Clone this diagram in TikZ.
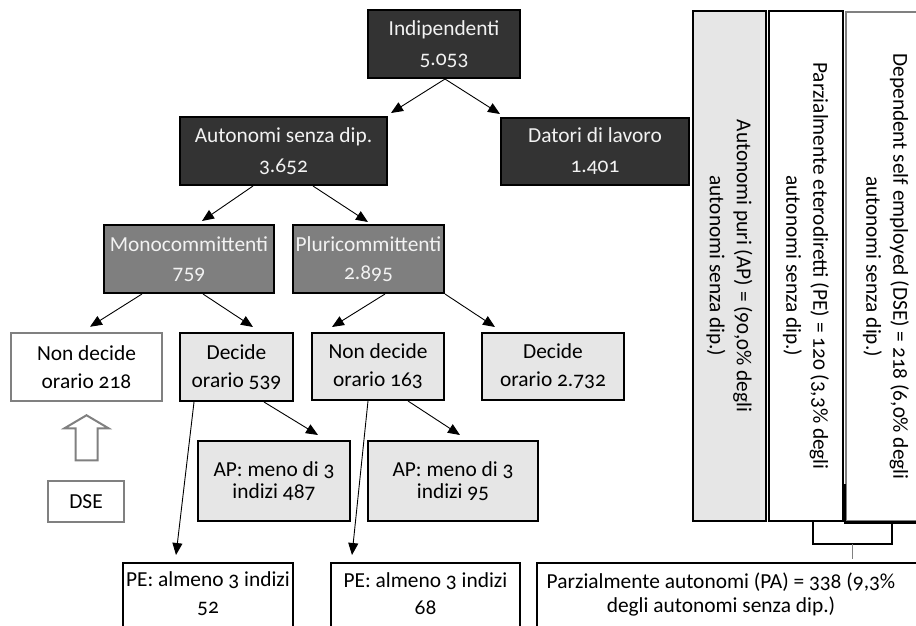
\documentclass[tikz,border=0pt]{standalone}
\usepackage{fontspec}
\setmainfont{Carlito}[Numbers=OldStyle]
\usetikzlibrary{arrows.meta,calc}
\definecolor{dkfill}{HTML}{333333}
\definecolor{mdfill}{HTML}{7F7F7F}
\definecolor{ltfill}{HTML}{E6E6E6}
\definecolor{greyline}{HTML}{808080}
\definecolor{lighttext}{HTML}{F2F2F2}
\begin{document}
\begin{tikzpicture}[x=1pt,y=-1pt,
  basebox/.style={rectangle, inner sep=0pt, align=center},
  dkbox/.style={basebox, draw=black, line width=2pt, fill=dkfill, text=lighttext, font=\fontsize{21.4}{30}\selectfont},
  mdbox/.style={basebox, draw=black, line width=2pt, fill=mdfill, text=lighttext, font=\fontsize{21.4}{28}\selectfont},
  ltbox/.style={basebox, draw=black, line width=2pt, fill=ltfill, font=\fontsize{21.4}{28}\selectfont},
  apbox/.style={basebox, draw=black, line width=2pt, fill=ltfill, font=\fontsize{21.4}{22}\selectfont},
  gybox/.style={basebox, draw=greyline, line width=2.5pt, fill=white, font=\fontsize{21.4}{28}\selectfont},
  btbox/.style={basebox, draw=black, line width=2pt, fill=white},
  bttext/.style={basebox, font=\fontsize{21.4}{27}\selectfont},
  vbox/.style={basebox, rotate=-90, line width=2.5pt, font=\fontsize{21.3}{27}\selectfont},
  conn/.style={-{Triangle[length=12pt,width=10pt]}, line width=0.9pt, black}
]
\useasboundingbox (0,0) rectangle (916,625);
\clip (0,0) rectangle (916,625);

% top level
\node[dkbox, minimum width=152pt, minimum height=68pt] (ind) at (444,44) {Indipendenti\\5.053};
\node[dkbox, minimum width=207pt, minimum height=68pt] (aut) at (283.5,151) {Autonomi senza dip.\\3.652};
\node[dkbox, minimum width=188pt, minimum height=67pt] (dat) at (595,151.5) {Datori di lavoro\\1.401};

% second level
\node[mdbox, minimum width=170pt, minimum height=68pt] (mono) at (189,259) {Monocommittenti\\759};
\node[mdbox, minimum width=151pt, minimum height=68pt] (pluri) at (368.5,259) {Pluricommittenti\\2.895};

% third level
\node[gybox, minimum width=151pt, minimum height=68pt] (nd218) at (86.5,367) {Non decide\\orario 218};
\node[ltbox, minimum width=113pt, minimum height=68pt] (d539) at (236.5,367) {Decide\\orario 539};
\node[ltbox, minimum width=132pt, minimum height=67pt] (nd163) at (378,366.5) {Non decide\\orario 163};
\node[ltbox, minimum width=142pt, minimum height=67pt] (d2732) at (553,366.5) {Decide\\orario 2.732};

% AP boxes
\node[apbox, minimum width=152pt, minimum height=80pt] (ap487) at (274,481) {AP: meno di 3\\indizi 487};
\node[apbox, minimum width=170pt, minimum height=80pt] (ap95) at (453,481) {AP: meno di 3\\indizi 95};

% DSE
\node[gybox, minimum width=76pt, minimum height=41pt] (dse) at (86,501.5) {DSE};

% bottom boxes
\node[btbox, minimum width=170pt, minimum height=82pt] (pe52) at (208,604) {};
\node[bttext] (pe52t) at (208,594) {PE: almeno 3 indizi\\52};
\node[btbox, minimum width=189pt, minimum height=82pt] (pe68) at (425.5,604) {};
\node[bttext] (pe68t) at (425.5,594) {PE: almeno 3 indizi\\68};
\node[btbox, minimum width=393pt, minimum height=82pt] (pa) at (733.5,604) {};
\node[basebox, font=\fontsize{21.4}{24}\selectfont] (pat) at (721,595) {Parzialmente autonomi (PA) = 338 (9,3\%\\degli autonomi senza dip.)};

% vertical boxes
\node[vbox, draw=black, fill=ltfill, minimum width=510pt, minimum height=73pt] (apv) at (729.5,266) {Autonomi puri (AP) = (90,0\% degli\\autonomi senza dip.)};
\node[vbox, draw=black, fill=white, minimum width=510pt, minimum height=74pt] (pev) at (806,266) {Parzialmente eterodiretti (PE) = 120 (3,3\% degli\\autonomi senza dip.)};
\node[vbox, draw=greyline, fill=white, minimum width=509pt, minimum height=80pt] (dsev) at (886,266.5) {Dependent self employed (DSE) = 218 (6,0\% degli\\autonomi senza dip.)};
\draw[black, line width=2.5pt] ($(dsev.south east)+(0,-38)$) -- (dsev.south east) -- (dsev.north east);

% bracket
\draw[black, line width=2pt] ($(pev.east)+(7,0)$) -- ++(0,22) -| ($(dsev.east)+(6,0)$);
\coordinate (bm) at ($(pev.east)!0.5!(dsev.east)+(6.5,22)$);
\coordinate (bmend) at ($(bm)+(0,15)$);
\draw[greyline, line width=1pt] (bm) -- (bmend);

% hollow arrow from DSE to Non decide 218
\coordinate (ht) at ($(nd218.south)+(0,13)$);
\draw[greyline, line width=2pt, fill=white] (ht) -- ++(22,13) -- ++(-11,0) -- ++(0,32) -- ++(-22,0) -- ++(0,-32) -- ++(-11,0) -- cycle;

% connectors
\draw[conn] ($(ind.south)+(1,0)$) -- ($(aut.north east)+(3,-3)$);
\draw[conn] ($(ind.south)+(1,0)$) -- ($(dat.north west)+(0,-3)$);
\draw[conn] ($(aut.south)+(-30.5,0)$) -- ($(mono.north)+(13,-3)$);
\draw[conn] ($(aut.south)+(29.5,0)$) -- ($(pluri.north)+(-0.5,-2)$);
\draw[conn] ($(mono.south)+(-47,0)$) -- ($(nd218.north)+(3.5,-5)$);
\draw[conn] ($(mono.south)+(14,0)$) -- ($(d539.north)+(16.5,-5)$);
\draw[conn] ($(pluri.south)+(16.5,0)$) -- ($(nd163.north)+(-46,-5)$);
\draw[conn] (pluri.south east) -- ($(d2732.north)+(-58,-5)$);
\draw[conn] ($(d539.south)+(27.5,0)$) -- ($(ap487.north)+(44,-5)$);
\draw[conn] ($(d539.south)+(-42.5,0)$) -- ($(pe52.north)+(-32,-7)$);
\draw[conn] ($(nd163.south)+(-10,0)$) -- ($(pe68.north)+(-73.5,-7)$);
\draw[conn] ($(nd163.south)+(30,0)$) -- ($(ap95.north)+(7,-5)$);
\end{tikzpicture}
\end{document}
